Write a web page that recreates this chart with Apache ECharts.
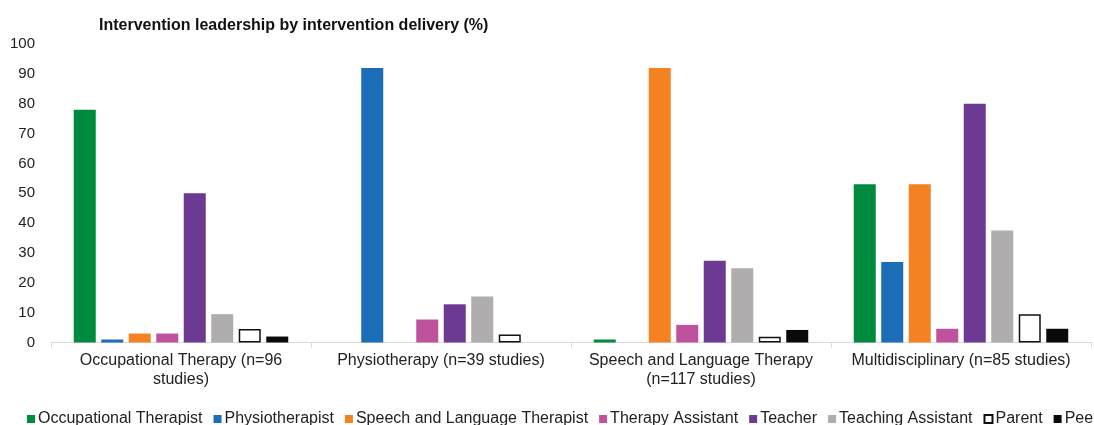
<!DOCTYPE html>
<html>
<head>
<meta charset="utf-8">
<script src="https://cdn.jsdelivr.net/npm/echarts@6/dist/echarts.min.js"></script>
<style>html,body{margin:0;padding:0;background:#fff;}#c{width:1094px;height:425px;}</style>
</head>
<body>
<div id="c"></div>
<script>
const categories = [
  'Occupational Therapy (n=96\nstudies)',
  'Physiotherapy (n=39 studies)',
  'Speech and Language Therapy\n(n=117 studies)',
  'Multidisciplinary (n=85 studies)'
];
const yTicks = [0, 10, 20, 30, 40, 50, 60, 70, 80, 90, 100];
const seriesNames = ['Occupational Therapist', 'Physiotherapist', 'Speech and Language Therapist', 'Therapy Assistant', 'Teacher', 'Teaching Assistant', 'Parent', 'Peer'];
const occupationalTherapist = [78, 0, 1, 53];
const physiotherapist = [1, 92, 0, 27];
const speechLanguageTherapist = [3, 0, 92, 53];
const therapyAssistant = [3, 7.7, 5.9, 4.6];
const teacher = [50, 12.8, 27.4, 80];
const teachingAssistant = [9.5, 15.4, 24.9, 37.5];
const parent = [4.5, 2.7, 1.9, 9.5];
const peer = [2, 0, 4.2, 4.6];
const seriesData = [occupationalTherapist, physiotherapist, speechLanguageTherapist, therapyAssistant, teacher, teachingAssistant, parent, peer];
const colors = ['#008A3F', '#1B6DB7', '#F58220', '#BE529C', '#6D3A93', '#AFADAD', '#FFFFFF', '#0A0A0A'];

const chart = echarts.init(document.getElementById('c'));
const font = 'Liberation Sans, Arial, sans-serif';
chart.setOption({
  animation: false,
  backgroundColor: '#fff',
  title: {
    text: 'Intervention leadership by intervention delivery (%)',
    left: 94, top: 13,
    textStyle: { fontFamily: font, fontSize: 16, fontWeight: 'bold', color: '#111' }
  },
  legend: {
    left: 22, top: 406, width: 1400,
    itemWidth: 8, itemHeight: 8, itemGap: 11,
    icon: 'rect',
    textStyle: { fontFamily: font, fontSize: 16, color: '#222', padding: [0, 0, 0, -2] },
    data: seriesNames
  },
  grid: { left: 51, right: 3, top: 44, bottom: 82.5 },
  xAxis: {
    type: 'category',
    data: categories,
    axisLine: { lineStyle: { color: '#d9d9d9', width: 1 } },
    axisTick: { show: true, length: 5, lineStyle: { color: '#d9d9d9' } },
    axisLabel: { interval: 0, fontFamily: font, fontSize: 16, color: '#222', margin: 9, lineHeight: 19 }
  },
  yAxis: {
    type: 'value',
    min: 0, max: 100, interval: 10,
    axisLine: { show: false },
    axisTick: { show: false },
    splitLine: { show: false },
    axisLabel: { fontFamily: font, fontSize: 15, color: '#222', margin: 16,
      formatter: v => yTicks.includes(v) ? String(v) : '' }
  },
  series: seriesNames.map((name, i) => ({
    name, type: 'bar',
    data: seriesData[i],
    barGap: '25%',
    barCategoryGap: '17.5%',
    itemStyle: i === 6
      ? { color: '#FFFFFF', borderColor: '#111', borderWidth: 1.5 }
      : { color: colors[i] }
  }))
});
</script>
</body>
</html>
